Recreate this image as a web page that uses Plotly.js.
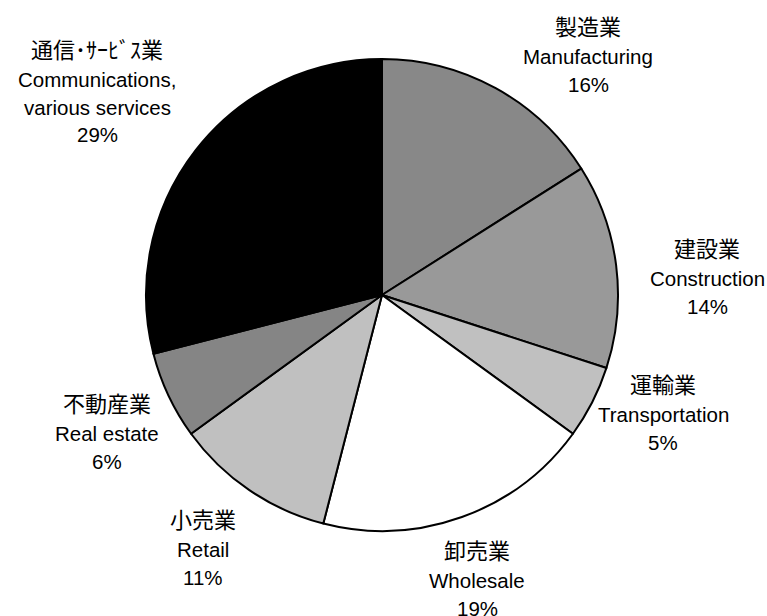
<!DOCTYPE html>
<html>
<head>
<meta charset="utf-8">
<script src="https://cdn.plot.ly/plotly-3.0.1.min.js"></script>
<style>html,body{margin:0;padding:0;background:#fff;}#chart{width:767px;height:616px;}</style>
</head>
<body>
<div id="chart"></div>
<script>
var jpNames = ["製造業", "建設業", "運輸業", "卸売業", "小売業", "不動産業", "通信･ｻｰﾋﾞｽ業"];
var enNames = [["Manufacturing"], ["Construction"], ["Transportation"], ["Wholesale"], ["Retail"], ["Real estate"], ["Communications,", "various services"]];
var shares = [16, 14, 5, 19, 11, 6, 29];
var sliceColors = ["#888888", "#999999", "#c0c0c0", "#ffffff", "#c0c0c0", "#858585", "#000000"];
// label anchor (x centre, y of first line) in pixels (layout only)
var labelPos = [[588, 25], [707, 247], [663, 383], [477, 549], [203, 518], [107, 402], [97, 48]];

var W = 767, H = 616;
var cx = 382, cy = 295, r = 236;

var latinFont = {family: "'Liberation Sans', Arial, sans-serif", size: 20.5, color: "#000"};
var jpFont = {family: "'Noto Sans CJK JP', sans-serif", size: 22, color: "#000"};

var annotations = [];
function addLine(text, x, y, f) {
  annotations.push({
    text: text, xref: "paper", yref: "paper",
    x: x / W, y: 1 - y / H,
    xanchor: "center", yanchor: "middle",
    showarrow: false, align: "center", font: f
  });
}
jpNames.forEach(function (jp, i) {
  var x = labelPos[i][0], y = labelPos[i][1];
  addLine(jp, x, y, jpFont);
  y += 31;
  enNames[i].forEach(function (line, k) {
    if (k > 0) y += 28;
    addLine(line, x, y, latinFont);
  });
  y += 28;
  addLine(shares[i] + "%", x, y, latinFont);
});

var trace = {
  type: "pie",
  values: shares,
  labels: jpNames,
  sort: false,
  direction: "clockwise",
  rotation: 0,
  textinfo: "none",
  hoverinfo: "skip",
  marker: {colors: sliceColors, line: {color: "#000", width: 2}},
  domain: {x: [(cx - r) / W, (cx + r) / W], y: [1 - (cy + r) / H, 1 - (cy - r) / H]},
  showlegend: false
};

Plotly.newPlot("chart", [trace], {
  width: W, height: H,
  margin: {l: 0, r: 0, t: 0, b: 0},
  paper_bgcolor: "#fff",
  showlegend: false,
  annotations: annotations,
  font: latinFont
}, {staticPlot: true});
</script>
</body>
</html>
